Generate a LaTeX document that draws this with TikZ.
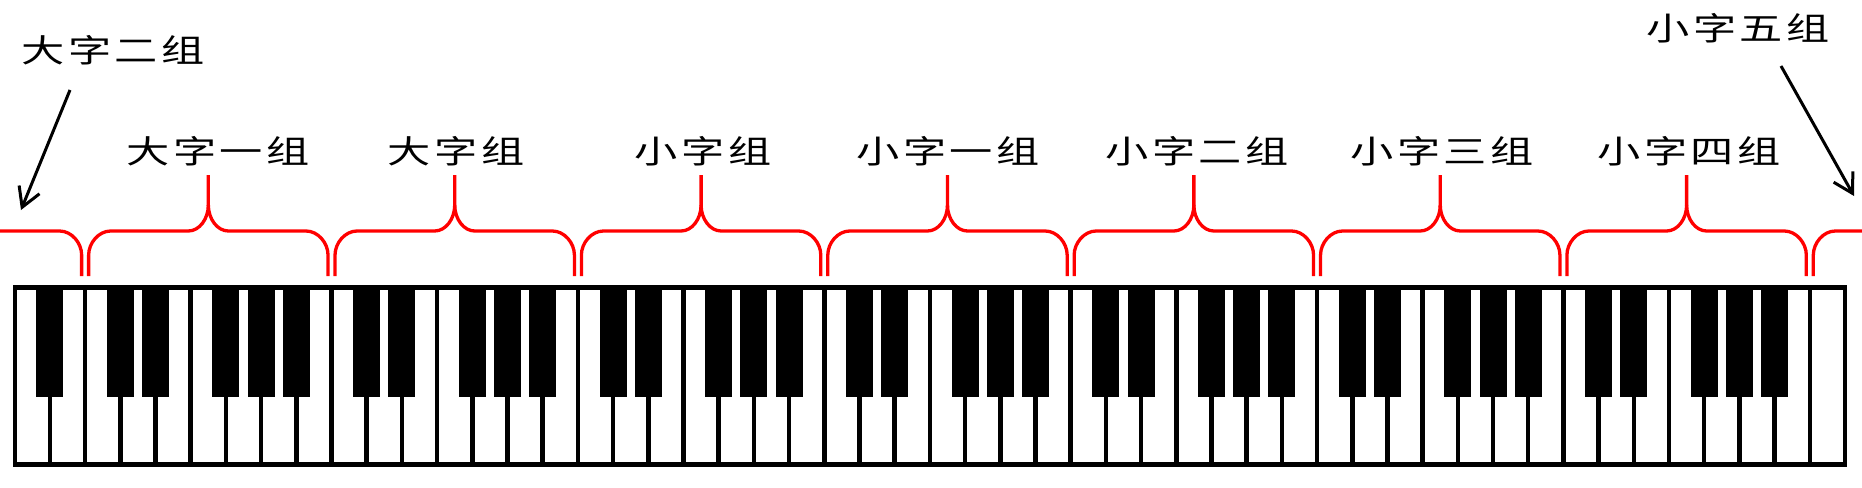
\documentclass[tikz,border=0pt]{standalone}
\usepackage{fontspec}
\newfontfamily\cjk[FakeStretch=1.35,LetterSpace=11]{Noto Sans CJK SC}
\usetikzlibrary{arrows.meta}
\begin{document}
\begin{tikzpicture}[x=1pt,y=-1pt,
  lbl/.style={font=\cjk\fontsize{32}{32}\selectfont, inner sep=0pt, text=black},
  bracepath/.style={draw=red, line width=3.3pt},
  arr/.style={line width=3pt, -{Straight Barb[length=19pt,width=22pt,line width=3pt]}},
  keyline/.style={line width=4.5pt},
  blackkey/.style={fill=black}]
\useasboundingbox (0,0) rectangle (1862,487);
\def\kw{35.197}
\def\kx{14.75}
% keyboard
\draw[keyline, fill=white] (\kx,287.3) rectangle ({\kx+52*\kw},464.7);
\foreach \i in {1,...,51}
  \draw[line width=4.5pt] ({\kx+\kw*\i},287) -- ({\kx+\kw*\i},465);
\fill[blackkey] ({\kx+\kw-13.5},285) rectangle +(27,112);
\foreach \k in {0,...,6}
  \foreach \d in {3,4,6,7,8}
    \fill[blackkey] ({\kx+\kw*(\d+7*\k)-13.5},285) rectangle +(27,112);
% braces
\foreach \k in {0,...,6}{
  \pgfmathsetmacro\xl{\kx+\kw*(2+7*\k)+3.5}
  \pgfmathsetmacro\xr{\kx+\kw*(9+7*\k)-3.5}
  \pgfmathsetmacro\xm{\kx+\kw*(5.5+7*\k)}
  \coordinate (tip\k) at (\xm,175);
  \draw[bracepath] (\xl,276) -- (\xl,255) .. controls (\xl,243) and ({\xl+10},231) .. ({\xl+22},231)
    -- ({\xm-20},231) .. controls ({\xm-9},231) and (\xm,219) .. (\xm,205) -- (tip\k);
  \draw[bracepath] (\xr,276) -- (\xr,255) .. controls (\xr,243) and ({\xr-10},231) .. ({\xr-22},231)
    -- ({\xm+20},231) .. controls ({\xm+9},231) and (\xm,219) .. (\xm,205);
}
% partial braces
\pgfmathsetmacro\pl{\kx+\kw*2-3.5}
\pgfmathsetmacro\pr{\kx+\kw*51+3.5}
\draw[bracepath] (0,231) -- ({\pl-22},231) .. controls ({\pl-10},231) and (\pl,243) .. (\pl,255) -- (\pl,276);
\draw[bracepath] (1862,231) -- ({\pr+22},231) .. controls ({\pr+10},231) and (\pr,243) .. (\pr,255) -- (\pr,276);
% labels
\node[lbl] (l0) at (113,50) {大字二组};
\node[lbl] (l1) at (218,151) {大字一组};
\node[lbl] (l2) at (456,151) {大字组};
\node[lbl] (l3) at (703,151) {小字组};
\node[lbl] (l4) at (948,151) {小字一组};
\node[lbl] (l5) at (1197,151) {小字二组};
\node[lbl] (l6) at (1442,151) {小字三组};
\node[lbl] (l7) at (1689,151) {小字四组};
\node[lbl] (l8) at (1738,28) {小字五组};
% arrows
\coordinate (s0) at (70,90);
\coordinate (e0) at (21,210);
\coordinate (s8) at (1781,66);
\coordinate (e8) at (1854,196);
\draw[arr] (s0) -- (e0);
\draw[arr] (s8) -- (e8);
\end{tikzpicture}
\end{document}
